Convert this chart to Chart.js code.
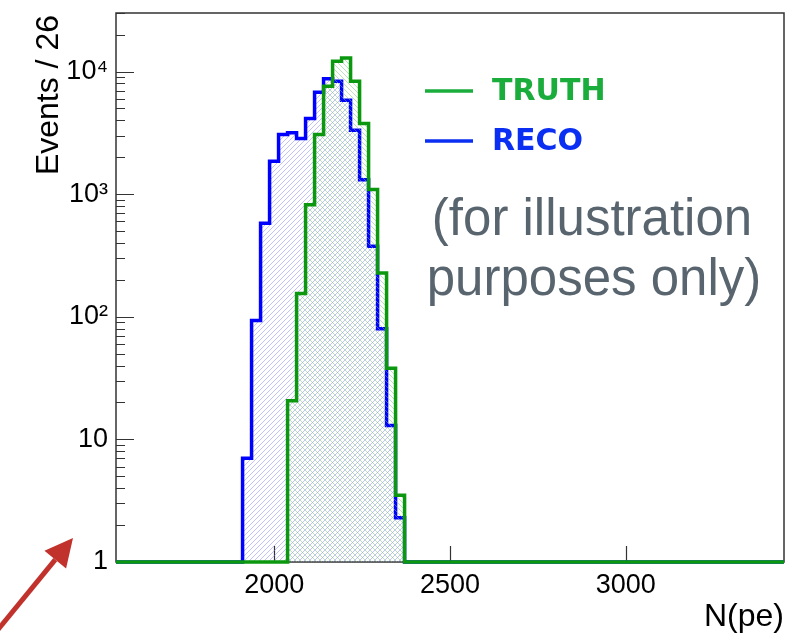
<!DOCTYPE html>
<html>
<head>
<meta charset="utf-8">
<script src="https://cdn.jsdelivr.net/npm/chart.js@4.4.1/dist/chart.umd.min.js"></script>
<style>
  html, body { margin: 0; padding: 0; background: #fff; }
  #wrap { width: 809px; height: 633px; position: relative; }
</style>
</head>
<body>
<div id="wrap"><canvas id="npeChart" width="809" height="633"></canvas></div>
<script>
// histogram binning (N(pe)), counts per bin
const binStart = 1910;
const binWidth = 25.6;
const recoCounts = [7.0, 93, 580, 1850, 3060, 3160, 2840, 4130, 6780, 8720, 8340, 5830, 3320, 1310, 375, 80, 13, 2.3];
const truthCounts = [0, 0, 0, 0, 0, 20.7, 155, 820, 3060, 7590, 12100, 12900, 8340, 3760, 1090, 227, 38, 3.5];

const xRange = [1550, 3450];
const xTickValues = [2000, 2500, 3000];
const yRange = [1, 30000];
const yTickValues = [1, 10, 100, 1000, 10000];
const yTickLabels = ['1', '10', '10²', '10³', '10⁴'];

const seriesLabels = ['TRUTH', 'RECO'];
const noteLines = ['(for illustration', 'purposes only)'];

// empty bins sit on the axis minimum, like ROOT draws them on a log axis
function histPoints(counts) {
    const floor = (c) => Math.max(c, yRange[0]);
    const pts = [{ x: xRange[0], y: yRange[0] }];
    counts.forEach((c, i) => pts.push({ x: binStart + i * binWidth, y: floor(c) }));
    pts.push({ x: binStart + counts.length * binWidth, y: yRange[0] });
    pts.push({ x: xRange[1], y: yRange[0] });
    return pts;
}

// ROOT-like hatch fill: dir > 0 is "/", dir < 0 is "\"
function hatch(color, dir) {
    const s = 5;
    const c = document.createElement('canvas');
    c.width = s; c.height = s;
    const g = c.getContext('2d');
    g.fillStyle = color;
    for (let i = 0; i < s; i++) {
        const x = dir > 0 ? s - 1 - i : i;
        g.fillRect(x, i, 1, 1);
    }
    return g.createPattern(c, 'repeat');
}

const frameAndNotes = {
    id: 'frameAndNotes',
    beforeDatasetsDraw(chart) {
        const { ctx, chartArea: a, scales: { x, y } } = chart;
        ctx.save();
        ctx.strokeStyle = '#333';
        ctx.lineWidth = 1.5;
        ctx.strokeRect(a.left, a.top, a.right - a.left, a.bottom - a.top);
        ctx.lineWidth = 1.2;
        ctx.beginPath();
        xTickValues.forEach(v => {
            const px = Math.round(x.getPixelForValue(v)) + 0.5;
            ctx.moveTo(px, a.bottom); ctx.lineTo(px, a.bottom - 16);
        });
        for (let d = 1; d <= 10000; d *= 10) {
            for (let m = 1; m <= 9; m++) {
                const v = d * m;
                if (v > yRange[1]) break;
                const py = Math.round(y.getPixelForValue(v)) + 0.5;
                ctx.moveTo(a.left, py);
                ctx.lineTo(a.left + (m === 1 ? 18 : 9), py);
            }
        }
        ctx.stroke();
        ctx.restore();
    },
    afterDraw(chart) {
        const { ctx, chartArea: a } = chart;
        ctx.save();
        // axis titles
        ctx.fillStyle = '#000';
        ctx.font = '32px "Liberation Sans", Arial, sans-serif';
        ctx.textAlign = 'right';
        ctx.textBaseline = 'alphabetic';
        ctx.fillText('N(pe)', a.right, 626);
        ctx.translate(58, 15);
        ctx.rotate(-Math.PI / 2);
        ctx.fillText('Events / 26', 0, 0);
        ctx.setTransform(1, 0, 0, 1, 0, 0);

        // legend
        const ds = chart.data.datasets;
        const legendColors = ['#1aad3c', '#0a2ff2'];
        const rows = [91, 141];
        ds.forEach((d, i) => {
            ctx.strokeStyle = legendColors[i];
            ctx.lineWidth = 3.5;
            ctx.beginPath();
            ctx.moveTo(425, rows[i]); ctx.lineTo(473, rows[i]);
            ctx.stroke();
            ctx.fillStyle = legendColors[i];
            ctx.font = 'bold 30px "DejaVu Sans", sans-serif';
            ctx.textAlign = 'left';
            ctx.textBaseline = 'middle';
            ctx.fillText(d.label, 492, rows[i] + 1);
        });

        // note
        ctx.fillStyle = '#59656e';
        ctx.font = '51px "Liberation Sans", Arial, sans-serif';
        ctx.textAlign = 'center';
        ctx.textBaseline = 'alphabetic';
        ctx.fillText(noteLines[0], 592, 235);
        ctx.fillText(noteLines[1], 594, 295);

        // red arrow
        const x0 = -4, y0 = 632, x1 = 73, y1 = 538;
        const ang = Math.atan2(y1 - y0, x1 - x0);
        const hl = 28, hw = 14;
        const bx = x1 - hl * Math.cos(ang), by = y1 - hl * Math.sin(ang);
        ctx.strokeStyle = '#c1322d';
        ctx.fillStyle = '#c1322d';
        ctx.lineWidth = 5;
        ctx.beginPath();
        ctx.moveTo(x0, y0); ctx.lineTo(bx, by);
        ctx.stroke();
        ctx.beginPath();
        ctx.moveTo(x1, y1);
        ctx.lineTo(bx + hw * Math.sin(ang), by - hw * Math.cos(ang));
        ctx.lineTo(bx - hw * Math.sin(ang), by + hw * Math.cos(ang));
        ctx.closePath();
        ctx.fill();
        ctx.restore();
    }
};

const noPad = (s) => { s.paddingTop = 0; s.paddingBottom = 0; s.paddingLeft = 0; s.paddingRight = 0; };

const ctx = document.getElementById('npeChart');
new Chart(ctx, {
    type: 'line',
    data: {
        datasets: [
            {
                label: seriesLabels[0],
                data: histPoints(truthCounts),
                borderColor: '#0b980f',
                backgroundColor: hatch('rgba(120,195,120,0.5)', -1),
                borderWidth: 3.5,
                stepped: 'before',
                fill: 'start',
                pointRadius: 0,
                borderJoinStyle: 'miter',
                clip: { left: 0, top: 0, right: 0, bottom: 4 },
            },
            {
                label: seriesLabels[1],
                data: histPoints(recoCounts),
                borderColor: '#0000ff',
                backgroundColor: hatch('rgba(130,130,245,0.5)', 1),
                borderWidth: 3.5,
                stepped: 'before',
                fill: 'start',
                pointRadius: 0,
                borderJoinStyle: 'miter',
                clip: { left: 0, top: 0, right: 0, bottom: 4 },
            },
        ],
    },
    options: {
        responsive: false,
        animation: false,
        devicePixelRatio: 1,
        layout: { padding: { top: 13, right: 25, left: 0, bottom: 0 } },
        plugins: {
            legend: { display: false },
            tooltip: { enabled: false },
        },
        scales: {
            x: {
                type: 'linear',
                min: xRange[0],
                max: xRange[1],
                grid: { display: false, drawTicks: false },
                border: { display: false },
                afterBuildTicks: (s) => { s.ticks = xTickValues.map(v => ({ value: v })); },
                afterFit: (s) => { s.height = 71; noPad(s); },
                ticks: {
                    padding: 7,
                    color: '#000',
                    maxRotation: 0,
                    font: { size: 27, family: '"Liberation Sans", Arial, sans-serif' },
                    callback: (v) => String(v),
                },
            },
            y: {
                type: 'logarithmic',
                min: yRange[0],
                max: yRange[1],
                grid: { display: false, drawTicks: false },
                border: { display: false },
                afterBuildTicks: (s) => { s.ticks = yTickValues.map(v => ({ value: v })); },
                afterFit: (s) => { s.width = 116; noPad(s); },
                ticks: {
                    padding: 8,
                    color: '#000',
                    font: { size: 27, family: '"Liberation Sans", "DejaVu Sans", Arial, sans-serif' },
                    callback: (v) => {
                        const i = yTickValues.indexOf(v);
                        return i >= 0 ? yTickLabels[i] : '';
                    },
                },
            },
        },
    },
    plugins: [frameAndNotes],
});
</script>
</body>
</html>
